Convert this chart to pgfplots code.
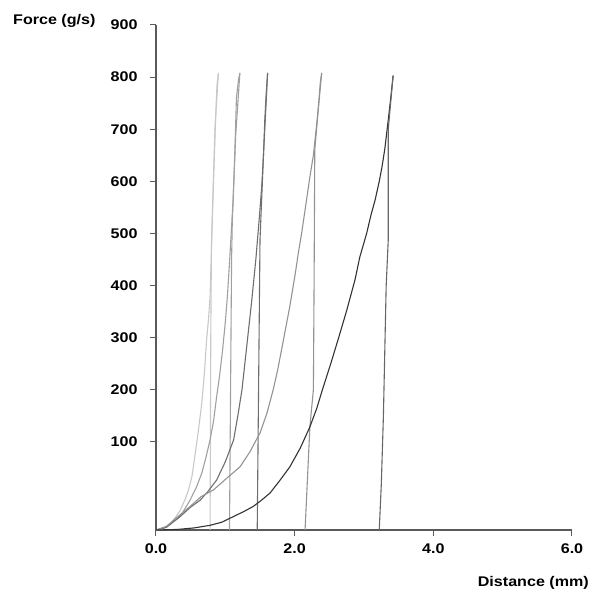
\documentclass[border=0pt]{standalone}
\usepackage{pgfplots}
\pgfplotsset{compat=1.18}
\usepackage{fontspec}
\setmainfont{Liberation Sans}[FakeStretch=1.15]
\definecolor{axgray}{HTML}{5A5A5A}
\definecolor{cA}{HTML}{C8C8C8}
\definecolor{cB}{HTML}{A0A0A0}
\definecolor{cC}{HTML}{6E6E6E}
\definecolor{cD}{HTML}{939393}
\definecolor{cE}{HTML}{333333}
\definecolor{cEu}{HTML}{666666}
\begin{document}
\begin{tikzpicture}
\path[use as bounding box] (-156bp,-62bp) rectangle (438bp,530bp);
\begin{axis}[
 at={(0,0)}, anchor=south west,
 scale only axis, width=416bp, height=505bp,
 xmin=0, xmax=6, ymin=-69, ymax=900,
 axis x line=bottom, axis y line=left,
 axis line style={-, axgray, line width=1.2bp},
 xtick={0,2,4,6}, ytick={100,200,...,900},
 tick align=outside, major tick length=6bp,
 tick style={axgray, line width=1bp},
 xticklabel style={yshift=-4bp, /pgf/number format/.cd, fixed, fixed zerofill, precision=1},
 yticklabel style={xshift=-9bp},
 ticklabel style={font=\fontsize{14bp}{16bp}\selectfont\bfseries},
 /pgf/number format/assume math mode=true,
 clip=false,
 every axis plot/.append style={line width=1.1bp, line join=round, mark=none},
]
% curve 1
\addplot[cA] coordinates {(0,-69)(0.1,-67)(0.2,-58)(0.28,-45)(0.35,-31)(0.42,-10)(0.47,8)(0.52,35)(0.56,72)(0.61,120)(0.66,174)(0.70,235)(0.73,296)(0.76,340)(0.78,380)(0.80,470)(0.82,560)(0.84,641)(0.865,740)(0.88,785)(0.9,808)};
\addplot[cA] coordinates {(0.9,808)(0.85,700)(0.80,480)(0.79,300)(0.78,-69)};
% curve 2
\addplot[cB] coordinates {(0,-69)(0.1,-66)(0.2,-58)(0.35,-43)(0.49,-12)(0.58,12)(0.66,40)(0.72,70)(0.78,104)(0.83,140)(0.875,187)(0.92,230)(0.96,276)(1.0,330)(1.03,380)(1.06,443)(1.09,513)(1.11,560)(1.125,609)(1.145,690)(1.16,760)(1.19,795)(1.21,808)};
\addplot[cB] coordinates {(1.21,808)(1.15,690)(1.10,520)(1.09,450)(1.06,-69)};
% curve 3
\addplot[cC] coordinates {(0,-69)(0.15,-64)(0.35,-43)(0.5,-25)(0.635,-12)(0.75,5)(0.875,27)(1.0,62)(1.12,104)(1.18,150)(1.24,200)(1.31,285)(1.38,370)(1.44,450)(1.49,530)(1.525,590)(1.55,650)(1.57,720)(1.59,770)(1.61,808)};
\addplot[cC] coordinates {(1.61,808)(1.55,650)(1.50,488)(1.46,-69)};
% curve 4
\addplot[cD] coordinates {(0,-69)(0.15,-62)(0.3,-45)(0.49,-24)(0.65,-5)(0.83,8)(1.0,28)(1.21,52)(1.35,80)(1.50,117)(1.60,155)(1.69,200)(1.75,235)(1.81,276)(1.87,318)(1.93,360)(2.01,424)(2.05,460)(2.10,500)(2.15,545)(2.22,609)(2.27,650)(2.31,700)(2.34,740)(2.37,790)(2.39,808)};
\addplot[cD] coordinates {(2.39,808)(2.34,737)(2.29,660)(2.28,400)(2.27,200)(2.22,130)(2.15,-69)};
% curve 5
\addplot[cE] coordinates {(0,-69)(0.3,-68)(0.55,-65)(0.78,-60)(0.95,-54)(1.12,-43)(1.26,-34)(1.40,-24)(1.52,-12)(1.645,2)(1.78,25)(1.93,52)(2.08,88)(2.22,129)(2.32,165)(2.40,200)(2.52,250)(2.63,298)(2.75,352)(2.87,411)(2.94,455)(3.04,501)(3.10,535)(3.16,564)(3.22,600)(3.26,628)(3.30,662)(3.35,718)(3.39,765)(3.42,803)};
\addplot[cEu] coordinates {(3.42,803)(3.35,700)(3.35,488)(3.32,400)(3.28,150)(3.25,20)(3.22,-69)};
\end{axis}
\node[anchor=west, font=\fontsize{14bp}{16bp}\selectfont\bfseries, inner sep=0pt] at (-143bp,509bp) {Force (g/s)};
\node[anchor=east, font=\fontsize{14bp}{16bp}\selectfont\bfseries, inner sep=0pt] at (433bp,-53bp) {Distance (mm)};
\end{tikzpicture}
\end{document}
